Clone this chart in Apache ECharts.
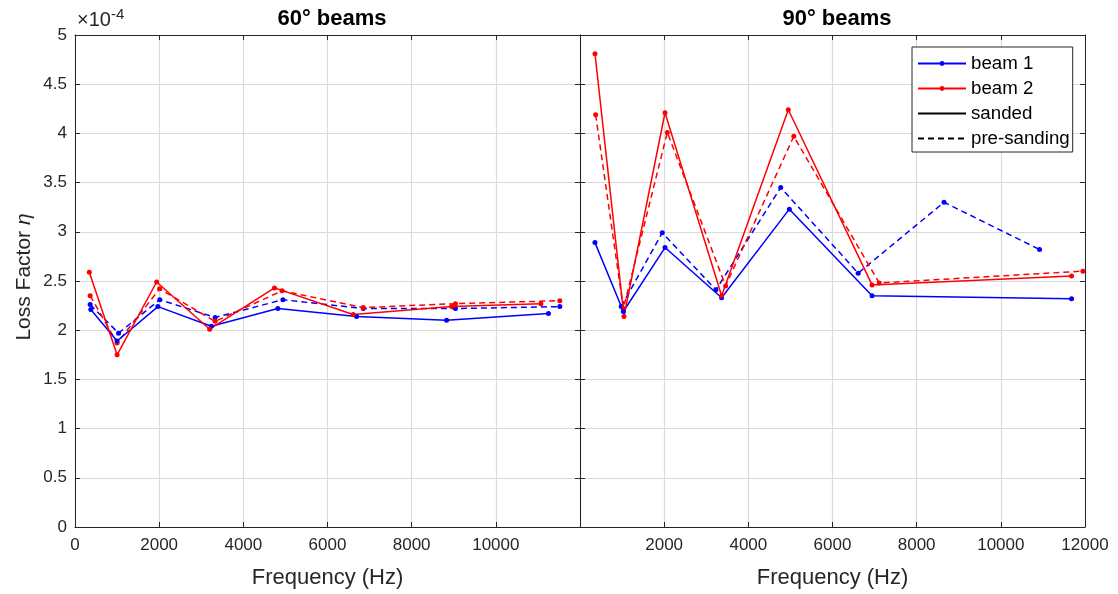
<!DOCTYPE html>
<html>
<head>
<meta charset="utf-8">
<script src="https://cdn.jsdelivr.net/npm/echarts@6/dist/echarts.min.js"></script>
<style>html,body{margin:0;padding:0;background:#fff;}#c{width:1118px;height:594px;}</style>
</head>
<body>
<div id="c"></div>
<script>
// ---- Data (loss factor in units of 1e-4) ----
const panelTitles = ['60° beams', '90° beams'];
const xTicks = [0, 2000, 4000, 6000, 8000, 10000, 12000];
const yTicks = [0, 0.5, 1, 1.5, 2, 2.5, 3, 3.5, 4, 4.5, 5];

// 60° beams
const freqL_b1_sanded = [375, 1000, 1970, 3240, 4820, 6690, 8830, 11250];
const lossL_b1_sanded = [2.21, 1.89, 2.24, 2.04, 2.22, 2.14, 2.10, 2.17];
const freqL_b1_pre    = [360, 1035, 2015, 3330, 4940, 6850, 9040, 11520];
const lossL_b1_pre    = [2.26, 1.97, 2.31, 2.13, 2.31, 2.22, 2.22, 2.24];
const freqL_b2_sanded = [340, 1000, 1940, 3200, 4740, 6610, 8950, 11070];
const lossL_b2_sanded = [2.59, 1.75, 2.49, 2.01, 2.43, 2.16, 2.24, 2.27];
const freqL_b2_pre    = [360, 1000, 2010, 3330, 4920, 6850, 9040, 11520];
const lossL_b2_pre    = [2.35, 1.87, 2.42, 2.09, 2.40, 2.23, 2.27, 2.30];

// 90° beams
const freqR_b1_sanded = [356, 1030, 2020, 3365, 4975, 6940, 11680];
const lossR_b1_sanded = [2.89, 2.19, 2.84, 2.33, 3.23, 2.35, 2.32];
const freqR_b1_pre    = [980, 1955, 3230, 4770, 6610, 8650, 10920];
const lossR_b1_pre    = [2.24, 2.99, 2.41, 3.45, 2.58, 3.30, 2.82];
const freqR_b2_sanded = [356, 1045, 2020, 3365, 4950, 6940, 11680];
const lossR_b2_sanded = [4.81, 2.14, 4.21, 2.35, 4.24, 2.46, 2.55];
const freqR_b2_pre    = [372, 1030, 2075, 3460, 5080, 7110, 11950];
const lossR_b2_pre    = [4.19, 2.22, 4.01, 2.45, 3.97, 2.48, 2.60];

const legendNames = ['beam 1', 'beam 2', 'sanded', 'pre-sanding'];

const zip = (xs, ys) => xs.map((x, i) => [x, ys[i]]);

const AX = '#262626';
const GRIDC = '#dadada';
const FONT = 'Liberation Sans, Arial, sans-serif';
const BLUE = '#0000ff';
const RED = '#ff0000';

const chart = echarts.init(document.getElementById('c'), null, {renderer: 'canvas'});

function xAxisMain(gi, hideMin, hideMax) {
  return {
    type: 'value', gridIndex: gi, min: 0, max: 12000, interval: 2000,
    axisLine: {show: true, onZero: false, lineStyle: {color: AX, width: 1}},
    axisTick: {show: true, inside: true, length: 5, lineStyle: {color: AX}},
    axisLabel: {color: AX, fontSize: 17, fontFamily: FONT, margin: 10, showMinLabel: !hideMin, showMaxLabel: !hideMax,
      formatter: v => ((hideMin && v === 0) || (hideMax && v === 12000)) ? '' : String(v)},
    splitLine: {show: true, lineStyle: {color: GRIDC, width: 1.2}},
    name: 'Frequency (Hz)', nameLocation: 'middle', nameGap: 40,
    nameTextStyle: {color: AX, fontSize: 22, fontFamily: FONT}
  };
}
function xAxisTop(gi) {
  return {
    type: 'value', gridIndex: gi, position: 'top', min: 0, max: 12000, interval: 2000,
    axisLine: {show: true, onZero: false, lineStyle: {color: AX, width: 1}},
    axisTick: {show: true, inside: true, length: 5, lineStyle: {color: AX}},
    axisLabel: {show: false}, splitLine: {show: false}
  };
}
function yAxisMain(gi, showLabels) {
  const ax = {
    type: 'value', gridIndex: gi, min: 0, max: 5, interval: 0.5, position: 'left',
    axisLine: {show: true, onZero: false, lineStyle: {color: AX, width: 1}},
    axisTick: {show: true, inside: true, length: 5, lineStyle: {color: AX}},
    axisLabel: {show: showLabels, color: AX, fontSize: 17, fontFamily: FONT, margin: 8,
      formatter: v => String(v)},
    splitLine: {show: true, lineStyle: {color: GRIDC, width: 1.2}}
  };
  if (showLabels) {
    ax.name = 'Loss Factor {i|η}';
    ax.nameLocation = 'middle';
    ax.nameGap = 40;
    ax.nameTextStyle = {color: AX, fontSize: 21, fontFamily: FONT, padding: [0, 0, 0, 8],
      rich: {i: {fontStyle: 'italic', fontSize: 21, fontFamily: FONT, color: AX}}};
  }
  return ax;
}
function yAxisRight(gi) {
  return {
    type: 'value', gridIndex: gi, min: 0, max: 5, interval: 0.5, position: 'right',
    axisLine: {show: true, onZero: false, lineStyle: {color: AX, width: 1}},
    axisTick: {show: true, inside: true, length: 5, lineStyle: {color: AX}},
    axisLabel: {show: false}, splitLine: {show: false}
  };
}

function ser(name, xi, yi, data, color, dashed) {
  return {
    name: name, type: 'line', xAxisIndex: xi, yAxisIndex: yi, data: data,
    symbol: 'circle', symbolSize: 5, showSymbol: true,
    lineStyle: {color: color, width: 1.5, type: dashed ? [6, 4] : 'solid'},
    itemStyle: {color: color}, animation: false, z: dashed ? 3 : 4
  };
}

const option = {
  backgroundColor: '#fff',
  animation: false,
  textStyle: {fontFamily: FONT},
  title: [
    {text: panelTitles[0], left: 327, top: 3, textAlign: 'center',
     textStyle: {fontSize: 22, fontWeight: 'bold', color: '#000', fontFamily: FONT}},
    {text: panelTitles[1], left: 832, top: 3, textAlign: 'center',
     textStyle: {fontSize: 22, fontWeight: 'bold', color: '#000', fontFamily: FONT}}
  ],
  graphic: [{
    type: 'text', left: 77, top: 7,
    style: {text: '×10{s|-4}', fontSize: 20, fontFamily: FONT, fill: AX,
      rich: {s: {fontSize: 15, fontFamily: FONT, fill: AX, verticalAlign: 'top', padding: [0, 0, 12, 0]}}}
  }],
  grid: [
    {left: 75, top: 35, width: 505, height: 493, show: false},
    {left: 580, top: 35, width: 505, height: 493, show: false}
  ],
  xAxis: [xAxisMain(0, false, true), xAxisMain(1, true, false), xAxisTop(0), xAxisTop(1)],
  yAxis: [yAxisMain(0, true), yAxisMain(1, false), yAxisRight(0), yAxisRight(1)],
  legend: {
    show: true, orient: 'vertical', left: 912, top: 47,
    data: [
      {name: legendNames[0]},
      {name: legendNames[1]},
      {name: legendNames[2], itemStyle: {color: 'rgba(0,0,0,0)', borderWidth: 0, opacity: 0}},
      {name: legendNames[3], itemStyle: {color: 'rgba(0,0,0,0)', borderWidth: 0, opacity: 0}}
    ],
    itemWidth: 48, itemHeight: 6, itemGap: 6,
    padding: [7, 3, 4, 5],
    backgroundColor: '#fff', borderColor: AX, borderWidth: 1, borderRadius: 0,
    textStyle: {fontSize: 18.7, color: '#000', fontFamily: FONT},
    selectedMode: false
  },
  series: [
    ser('beam 1', 0, 0, zip(freqL_b1_sanded, lossL_b1_sanded), BLUE, false),
    ser('beam 1 (pre-sanding, 60°)', 0, 0, zip(freqL_b1_pre, lossL_b1_pre), BLUE, true),
    ser('beam 2', 0, 0, zip(freqL_b2_sanded, lossL_b2_sanded), RED, false),
    ser('beam 2 (pre-sanding, 60°)', 0, 0, zip(freqL_b2_pre, lossL_b2_pre), RED, true),
    ser('beam 1 (sanded, 90°)', 1, 1, zip(freqR_b1_sanded, lossR_b1_sanded), BLUE, false),
    ser('beam 1 (pre-sanding, 90°)', 1, 1, zip(freqR_b1_pre, lossR_b1_pre), BLUE, true),
    ser('beam 2 (sanded, 90°)', 1, 1, zip(freqR_b2_sanded, lossR_b2_sanded), RED, false),
    ser('beam 2 (pre-sanding, 90°)', 1, 1, zip(freqR_b2_pre, lossR_b2_pre), RED, true),
    {name: legendNames[2], type: 'line', xAxisIndex: 1, yAxisIndex: 1, data: [], symbol: 'none',
     lineStyle: {color: '#000', width: 1.5, type: 'solid'}, itemStyle: {color: '#000'}},
    {name: legendNames[3], type: 'line', xAxisIndex: 1, yAxisIndex: 1, data: [], symbol: 'none',
     lineStyle: {color: '#000', width: 1.5, type: [6, 4]}, itemStyle: {color: '#000'}}
  ]
};
chart.setOption(option);
</script>
</body>
</html>
